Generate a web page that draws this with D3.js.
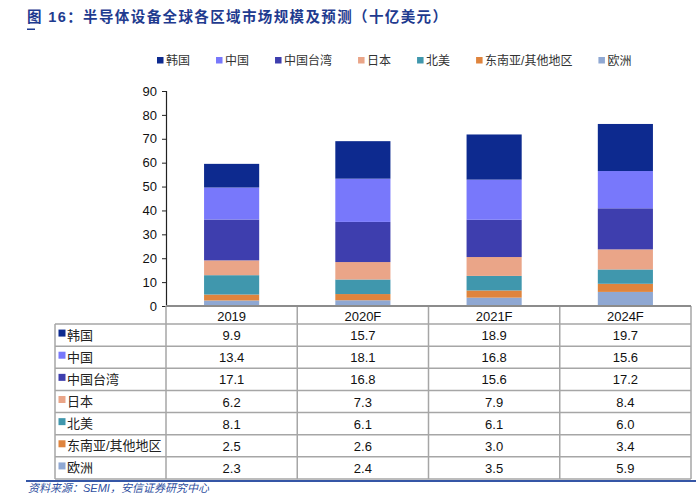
<!DOCTYPE html>
<html><head><meta charset="utf-8">
<script src="https://cdn.jsdelivr.net/npm/d3@7"></script>
<style>body{margin:0;background:#fff}svg{display:block}</style></head>
<body>
<svg id="c" width="696" height="493"></svg>
<script>
const categories = ["2019", "2020F", "2021F", "2024F"];
const seriesNames = ["韩国", "中国", "中国台湾", "日本", "北美", "东南亚/其他地区", "欧洲"];
const korea = [9.9, 15.7, 18.9, 19.7];
const china = [13.4, 18.1, 16.8, 15.6];
const taiwan = [17.1, 16.8, 15.6, 17.2];
const japan = [6.2, 7.3, 7.9, 8.4];
const northAmerica = [8.1, 6.1, 6.1, 6.0];
const seaOther = [2.5, 2.6, 3.0, 3.4];
const europe = [2.3, 2.4, 3.5, 5.9];
const yTicks = [0, 10, 20, 30, 40, 50, 60, 70, 80, 90];
const colors = ["#0d2a8f", "#7878fb", "#3e3eae", "#eaa588", "#4097ad", "#df843d", "#8fa8d3"];

const seriesValues = [korea, china, taiwan, japan, northAmerica, seaOther, europe];
const rows = categories.map((c, i) => {
  const o = {cat: c};
  seriesNames.forEach((s, j) => o[s] = seriesValues[j][i]);
  return o;
});

const svg = d3.select("#c");
const cjk = "'Liberation Sans', 'Noto Sans CJK SC', sans-serif";
const plotLeft = 166, plotRight = 691, plotTop = 91, plotBase = 306, tableBottom = 479, labelLeft = 55;

const x = d3.scaleBand().domain(categories).range([plotLeft, plotRight]).padding(0);
const y = d3.scaleLinear().domain([0, 90]).range([plotBase, plotTop]);
const rowY = d3.scaleBand().domain(seriesNames).range([324, tableBottom]).padding(0);
const color = d3.scaleOrdinal().domain(seriesNames).range(colors);

// Title
svg.append("text").attr("x", 27).attr("y", 22)
  .attr("font-family", "'Liberation Sans','Noto Sans CJK SC',sans-serif")
  .attr("font-weight", "bold").attr("font-size", 14.5).attr("fill", "#1f3b8f")
  .attr("textLength", 420).attr("lengthAdjust", "spacing")
  .text("图 16：半导体设备全球各区域市场规模及预测（十亿美元）");
svg.append("rect").attr("x", 27).attr("y", 28.5).attr("width", 8).attr("height", 1.5).attr("fill", "#1f3b8f");

// Legend
let lx = 157;
seriesNames.forEach(s => {
  const g = svg.append("g");
  g.append("rect").attr("x", lx).attr("y", 57).attr("width", 6.5).attr("height", 6.5).attr("fill", color(s));
  const t = g.append("text").attr("x", lx + 9).attr("y", 64.5)
    .attr("font-family", cjk).attr("font-size", 12).attr("fill", "#333").text(s);
  lx += 9 + t.node().getComputedTextLength() + 26;
});

// Bars
const stackKeys = seriesNames.slice().reverse();
const stacked = d3.stack().keys(stackKeys)(rows);
const barW = x.bandwidth() * 0.42;
svg.append("g").selectAll("g").data(stacked).join("g")
  .attr("fill", d => color(d.key))
  .selectAll("rect").data(d => d).join("rect")
  .attr("x", d => x(d.data.cat) + (x.bandwidth() - barW) / 2)
  .attr("width", barW)
  .attr("y", d => y(d[1]))
  .attr("height", d => y(d[0]) - y(d[1]));

// Y axis
const yAxis = d3.axisLeft(y).tickValues(yTicks).tickSize(4).tickPadding(5);
const ag = svg.append("g").attr("transform", `translate(${plotLeft},0)`).call(yAxis);
ag.select(".domain").attr("stroke", "#222").attr("stroke-width", 1.2);
ag.selectAll(".tick line").attr("stroke", "#222");
ag.selectAll(".tick text").attr("font-family", "'Liberation Sans', Arial, sans-serif")
  .attr("font-size", 13).attr("fill", "#111");

// Table grid
const gridColor = "#a6a6a6";
const grid = svg.append("g").attr("stroke", gridColor).attr("stroke-width", 1.5);
const rowLines = seriesNames.map(s => rowY(s)).concat([tableBottom]);
grid.selectAll("line.h").data(rowLines).join("line")
  .attr("x1", labelLeft).attr("x2", plotRight).attr("y1", d => d).attr("y2", d => d);
const vlines = categories.slice(1).map(c => x(c)).concat([plotRight]);
grid.selectAll("line.v").data(vlines).join("line")
  .attr("x1", d => d).attr("x2", d => d).attr("y1", plotBase).attr("y2", tableBottom);
grid.append("line").attr("x1", labelLeft).attr("x2", labelLeft).attr("y1", 324).attr("y2", tableBottom);
grid.append("line").attr("x1", plotLeft).attr("x2", plotLeft).attr("y1", plotBase).attr("y2", tableBottom);
svg.append("line").attr("x1", plotLeft).attr("x2", plotRight).attr("y1", plotBase).attr("y2", plotBase)
  .attr("stroke", "#8c8c8c").attr("stroke-width", 2);

// header
svg.append("g").selectAll("text").data(categories).join("text")
  .attr("x", d => x(d) + x.bandwidth() / 2).attr("y", 321)
  .attr("text-anchor", "middle").attr("font-family", "'Liberation Sans', Arial, sans-serif")
  .attr("font-size", 13).attr("fill", "#111").text(d => d);

// row labels and values
const rl = svg.append("g");
seriesNames.forEach((s, j) => {
  const cy = rowY(s) + rowY.bandwidth() / 2;
  rl.append("rect").attr("x", 58.5).attr("y", cy - 5.5).attr("width", 7).attr("height", 7).attr("fill", color(s));
  rl.append("text").attr("x", 67).attr("y", cy + 4.5).attr("font-family", cjk)
    .attr("font-size", 13).attr("fill", "#222").text(s);
  categories.forEach((c, i) => {
    rl.append("text").attr("x", x(c) + x.bandwidth() / 2).attr("y", cy + 5)
      .attr("text-anchor", "middle").attr("font-family", "'Liberation Sans', Arial, sans-serif")
      .attr("font-size", 13).attr("fill", "#111").text(seriesValues[j][i].toFixed(1));
  });
});

// Source
svg.append("line").attr("x1", 26).attr("x2", 696).attr("y1", 481).attr("y2", 481)
  .attr("stroke", "#3556a6").attr("stroke-width", 2);
svg.append("text").attr("x", 28).attr("y", 492).attr("font-family", cjk)
  .attr("font-size", 11).attr("font-style", "italic").attr("fill", "#2f4fa0")
  .text("资料来源：SEMI，安信证券研究中心");
</script>
</body></html>
